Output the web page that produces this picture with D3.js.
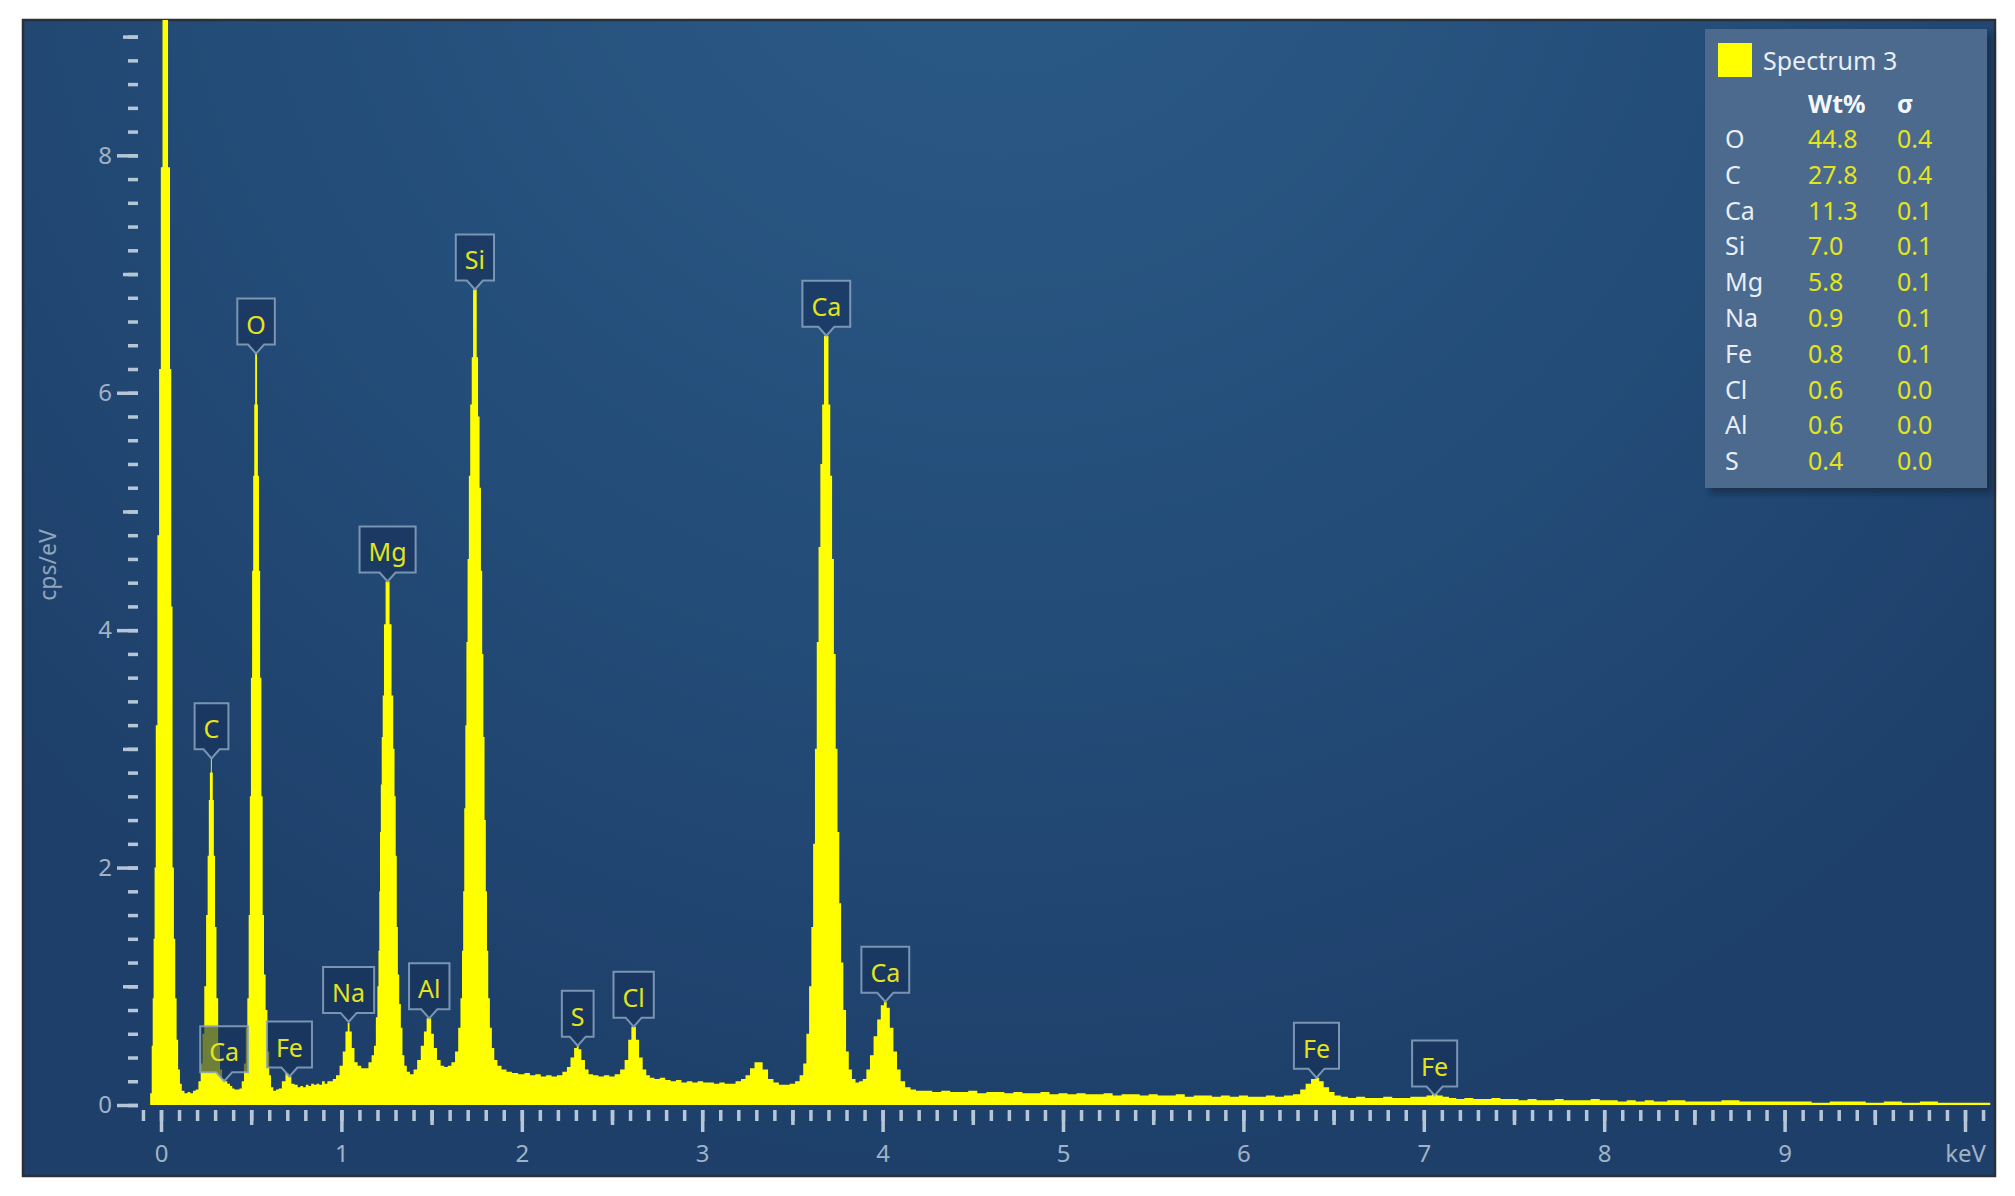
<!DOCTYPE html>
<html>
<head>
<meta charset="utf-8">
<script src="https://cdn.jsdelivr.net/npm/d3@7/dist/d3.min.js"></script>
<style>
    body { margin: 0; background: #ffffff; }
    svg { display: block; font-family: "Noto Sans", "Open Sans", sans-serif; }
</style>
</head>
<body>
<div id="chart"></div>
<script>
//Datos de la tabla de la leyenda
const elements = ['O', 'C', 'Ca', 'Si', 'Mg', 'Na', 'Fe', 'Cl', 'Al', 'S'];
const wtPercent = ['44.8', '27.8', '11.3', '7.0', '5.8', '0.9', '0.8', '0.6', '0.6', '0.4'];
const sigmaValues = ['0.4', '0.4', '0.1', '0.1', '0.1', '0.1', '0.1', '0.0', '0.0', '0.0'];

//Etiquetas de picos (elemento, keV, cps/eV en la punta)
const peakNames = ['C', 'Ca', 'O', 'Fe', 'Na', 'Mg', 'Al', 'Si', 'S', 'Cl', 'Ca', 'Ca', 'Fe', 'Fe'];
const peakEnergies = [0.28, 0.35, 0.527, 0.712, 1.04, 1.256, 1.487, 1.74, 2.31, 2.62, 3.688, 4.015, 6.405, 7.06];
const peakHeights = [2.92, 0.2, 6.33, 0.24, 0.70, 4.41, 0.73, 6.87, 0.50, 0.66, 6.48, 0.87, 0.23, 0.08];

//Ejes
const yTickLabels = [0, 2, 4, 6, 8];
const xTickLabels = ['0', '1', '2', '3', '4', '5', '6', '7', '8', '9', 'keV'];

//Espectro [keV, cps/eV]
const spectrum = [
    [-0.065,0],[-0.055,0.1],[-0.048,0.5],[-0.044,0.9],[-0.038,1.4],[-0.033,2.0],[-0.025,3.2],[-0.015,4.8],[-0.006,6.2],
    [0.004,7.9],[0.013,9.3],[0.015,12],[0.030,12],[0.032,9.3],[0.046,7.9],[0.054,6.2],[0.06,4.2],[0.068,2.0],[0.075,1.4],
    [0.083,0.9],[0.09,0.55],[0.1,0.3],[0.11,0.18],[0.12,0.12],[0.14,0.1],[0.155,0.11],[0.17,0.1],[0.185,0.12],[0.2,0.13],
    [0.215,0.2],[0.225,0.35],[0.235,0.6],[0.245,1.0],[0.255,1.6],[0.262,2.1],[0.268,2.57],[0.274,2.8],[0.279,2.92],
    [0.284,2.8],[0.29,2.57],[0.296,2.1],[0.303,1.5],[0.312,0.9],[0.322,0.5],[0.332,0.3],[0.345,0.22],[0.36,0.2],
    [0.375,0.18],[0.39,0.16],[0.4,0.14],[0.415,0.13],[0.43,0.13],[0.44,0.14],
    [0.455,0.2],[0.465,0.35],[0.475,0.65],[0.482,0.9],[0.49,1.6],[0.495,2.6],[0.502,3.6],[0.508,4.5],[0.514,5.3],
    [0.52,5.9],[0.524,6.33],[0.53,6.33],[0.534,5.9],[0.54,5.3],[0.546,4.5],[0.553,3.6],[0.56,2.6],[0.567,1.6],
    [0.575,1.1],[0.585,0.8],[0.595,0.45],[0.605,0.25],[0.615,0.15],[0.63,0.12],[0.645,0.13],
    [0.66,0.14],[0.68,0.2],[0.7,0.27],[0.715,0.24],[0.73,0.18],[0.75,0.17],[0.765,0.15],[0.78,0.16],[0.795,0.15],
    [0.81,0.17],[0.825,0.16],[0.84,0.18],[0.855,0.17],[0.87,0.18],[0.885,0.17],[0.9,0.2],[0.915,0.18],[0.93,0.2],
    [0.945,0.2],[0.96,0.22],
    [0.98,0.25],[1.0,0.33],[1.015,0.45],[1.03,0.62],[1.04,0.69],[1.05,0.62],[1.065,0.48],[1.08,0.36],[1.1,0.33],
    [1.12,0.31],[1.14,0.31],[1.16,0.36],
    [1.175,0.42],[1.186,0.5],[1.196,0.74],[1.203,1.0],[1.208,1.3],[1.212,1.8],[1.216,2.3],[1.221,2.7],[1.226,3.1],
    [1.232,3.45],[1.24,4.05],[1.25,4.41],[1.262,4.41],[1.272,4.05],[1.284,3.45],[1.291,3.0],[1.298,2.6],[1.304,2.1],
    [1.31,1.5],[1.316,1.1],[1.325,0.85],[1.334,0.65],[1.343,0.42],[1.355,0.33],[1.37,0.28],[1.39,0.26],[1.41,0.3],
    [1.43,0.38],[1.45,0.5],[1.465,0.62],[1.48,0.73],[1.49,0.73],[1.505,0.6],[1.52,0.48],[1.54,0.38],[1.56,0.33],
    [1.58,0.32],[1.6,0.33],[1.62,0.36],
    [1.64,0.45],[1.655,0.65],[1.665,0.9],[1.672,1.3],[1.678,1.8],[1.684,2.5],[1.69,3.2],[1.696,3.9],[1.703,4.6],
    [1.71,5.3],[1.718,5.9],[1.727,6.3],[1.733,6.87],[1.747,6.87],[1.753,6.3],[1.762,5.8],[1.77,5.2],[1.777,4.5],
    [1.784,3.8],[1.79,3.1],[1.797,2.4],[1.804,1.8],[1.81,1.3],[1.818,0.9],[1.828,0.65],[1.84,0.48],[1.855,0.38],
    [1.875,0.33],[1.9,0.3],[1.93,0.28],[1.96,0.27],[2.0,0.26],
    [2.03,0.27],[2.06,0.25],[2.09,0.26],[2.12,0.24],[2.15,0.25],[2.18,0.24],[2.21,0.25],[2.24,0.28],
    [2.26,0.32],[2.28,0.4],[2.3,0.48],[2.31,0.5],[2.32,0.47],[2.34,0.38],[2.36,0.3],[2.38,0.26],[2.41,0.25],
    [2.44,0.24],[2.47,0.25],[2.5,0.24],[2.53,0.26],[2.56,0.3],
    [2.58,0.38],[2.6,0.55],[2.615,0.66],[2.625,0.66],[2.64,0.55],[2.66,0.4],[2.68,0.3],[2.7,0.25],[2.72,0.23],
    [2.75,0.22],[2.78,0.23],[2.81,0.21],[2.84,0.2],[2.87,0.21],[2.9,0.19],[2.93,0.2],[2.96,0.19],[2.99,0.2],
    [3.02,0.19],[3.05,0.19],[3.08,0.18],[3.11,0.19],[3.14,0.18],[3.17,0.18],[3.2,0.2],[3.23,0.22],
    [3.25,0.25],[3.28,0.31],[3.3,0.36],[3.32,0.36],[3.35,0.3],[3.38,0.22],[3.41,0.19],[3.44,0.17],[3.47,0.17],
    [3.5,0.18],[3.53,0.2],[3.55,0.25],
    [3.57,0.35],[3.585,0.6],[3.6,1.0],[3.61,1.5],[3.62,2.2],[3.63,3.0],[3.64,3.9],[3.65,4.7],[3.66,5.4],
    [3.67,5.9],[3.68,6.48],[3.695,6.48],[3.705,5.9],[3.715,5.3],[3.725,4.6],[3.735,3.8],[3.745,3.0],[3.755,2.3],
    [3.765,1.7],[3.775,1.2],[3.79,0.8],[3.805,0.45],[3.82,0.3],[3.84,0.22],[3.86,0.19],[3.88,0.2],[3.9,0.22],
    [3.92,0.3],[3.94,0.42],[3.96,0.58],[3.98,0.72],[4.0,0.84],[4.015,0.87],[4.03,0.82],[4.05,0.65],[4.07,0.45],
    [4.09,0.3],[4.11,0.2],[4.14,0.15],[4.17,0.13],[4.2,0.12],
    [4.25,0.12],[4.3,0.11],[4.35,0.12],[4.4,0.11],[4.45,0.11],[4.5,0.12],[4.55,0.10],[4.6,0.11],[4.65,0.11],
    [4.7,0.10],[4.75,0.11],[4.8,0.10],[4.85,0.10],[4.9,0.11],[4.95,0.09],[5.0,0.10],[5.05,0.09],[5.1,0.10],
    [5.15,0.09],[5.2,0.09],[5.25,0.10],[5.3,0.08],[5.35,0.09],[5.4,0.09],[5.45,0.08],[5.5,0.09],[5.55,0.08],
    [5.6,0.08],[5.65,0.09],[5.7,0.07],[5.75,0.08],[5.8,0.08],[5.85,0.07],[5.9,0.08],[5.95,0.07],[6.0,0.08],
    [6.05,0.07],[6.1,0.07],[6.15,0.08],[6.2,0.07],[6.25,0.08],
    [6.3,0.09],[6.33,0.13],[6.36,0.18],[6.39,0.22],[6.41,0.23],[6.43,0.2],[6.46,0.15],[6.49,0.11],[6.52,0.08],
    [6.56,0.07],[6.6,0.06],[6.65,0.07],[6.7,0.06],[6.75,0.06],[6.8,0.07],[6.85,0.06],[6.9,0.06],[6.95,0.07],
    [7.0,0.07],[7.03,0.08],[7.06,0.09],[7.09,0.08],[7.12,0.07],[7.16,0.06],[7.2,0.05],[7.25,0.06],[7.3,0.05],
    [7.35,0.05],[7.4,0.06],[7.45,0.05],[7.5,0.05],[7.55,0.04],[7.6,0.05],[7.65,0.04],[7.7,0.04],[7.75,0.05],
    [7.8,0.04],[7.85,0.04],[7.9,0.04],[7.95,0.05],[8.0,0.04],[8.05,0.04],[8.1,0.03],[8.15,0.04],[8.2,0.03],
    [8.25,0.04],[8.3,0.03],[8.4,0.04],[8.5,0.03],[8.6,0.03],[8.7,0.04],[8.8,0.03],[8.9,0.03],[9.0,0.03],
    [9.1,0.03],[9.2,0.02],[9.3,0.03],[9.4,0.03],[9.5,0.02],[9.6,0.03],[9.7,0.02],[9.8,0.03],[9.9,0.02],
    [10.0,0.02],[10.14,0.02]
];

//Colores fijos
const COLOR_SPECTRUM = '#ffff00',
    COLOR_LABEL = '#e4e41c',
    COLOR_TICK = '#b7c6d6',
    COLOR_TICK_TEXT = '#9fb2c6';

const width = 2015, height = 1196;
const panel = {left: 23, top: 20, right: 1995, bottom: 1176};

let svg = d3.select('#chart')
    .append('svg')
        .attr('width', width)
        .attr('height', height);

let defs = svg.append('defs');

let grad = defs.append('radialGradient')
    .attr('id', 'bg')
    .attr('gradientUnits', 'userSpaceOnUse')
    .attr('cx', 1000).attr('cy', -150)
    .attr('r', 1350);
grad.append('stop').attr('offset', '0%').attr('stop-color', '#2c5c89');
grad.append('stop').attr('offset', '55%').attr('stop-color', '#244d79');
grad.append('stop').attr('offset', '100%').attr('stop-color', '#1d3f69');

defs.append('clipPath').attr('id', 'plotClip')
    .append('rect')
        .attr('x', 140).attr('y', panel.top)
        .attr('width', panel.right - 140).attr('height', 1105 - panel.top + 1);

let shadow = defs.append('filter').attr('id', 'shadow')
    .attr('x', '-10%').attr('y', '-10%').attr('width', '130%').attr('height', '130%');
shadow.append('feDropShadow')
    .attr('dx', 5).attr('dy', 5).attr('stdDeviation', 3)
    .attr('flood-color', '#0d1f36').attr('flood-opacity', 0.6);

//Fondo del panel
svg.append('rect')
    .attr('x', panel.left).attr('y', panel.top)
    .attr('width', panel.right - panel.left).attr('height', panel.bottom - panel.top)
    .attr('fill', 'url(#bg)')
    .attr('stroke', '#2b3036')
    .attr('stroke-width', 2.5);

//Escalas
let x = d3.scaleLinear()
    .domain([0, 10])
    .range([161, 1965]);

let y = d3.scaleLinear()
    .domain([0, 9.14])
    .range([1105, 20]);

//Espectro (en escalones, como los canales del detector)
let area = d3.area()
    .curve(d3.curveStep)
    .x(function(d) { return x(d[0]); })
    .y0(y(0))
    .y1(function(d) { return y(d[1]); });

svg.append('path')
    .datum(spectrum)
    .attr('clip-path', 'url(#plotClip)')
    .attr('fill', COLOR_SPECTRUM)
    .attr('d', area);

//Eje Y: marcas menores, intermedias y mayores
let yMinor = d3.range(0, 9.01, 0.2).map(function(d) { return +d.toFixed(1); });
let yOdd = [1, 3, 5, 7, 9];

function styleTicks(g) {
    g.select('.domain').remove();
    g.selectAll('.tick line').attr('stroke', COLOR_TICK).attr('stroke-width', 3.5);
}

svg.append('g')
    .attr('transform', 'translate(138,0)')
    .call(d3.axisLeft(y).tickValues(yMinor).tickSize(10).tickFormat(''))
    .call(styleTicks);

svg.append('g')
    .attr('transform', 'translate(138,0)')
    .call(d3.axisLeft(y).tickValues(yOdd).tickSize(15).tickFormat(''))
    .call(styleTicks);

svg.append('g')
    .attr('transform', 'translate(138,0)')
    .call(d3.axisLeft(y).tickValues(yTickLabels).tickSize(21).tickPadding(5))
    .call(styleTicks)
    .call(function(g) {
        g.selectAll('.tick text')
            .attr('fill', COLOR_TICK_TEXT)
            .style('font-size', '24px')
            .style('font-family', '"Noto Sans", sans-serif');
    });

//Eje X
let xMinor = d3.range(-1, 102).map(function(d) { return d / 10; });
let xHalf = d3.range(0, 10).map(function(d) { return d + 0.5; });
let xMajor = d3.range(0, 11);

svg.append('g')
    .attr('transform', 'translate(0,1110)')
    .call(d3.axisBottom(x).tickValues(xMinor).tickSize(11).tickFormat(''))
    .call(styleTicks);

svg.append('g')
    .attr('transform', 'translate(0,1110)')
    .call(d3.axisBottom(x).tickValues(xHalf).tickSize(15).tickFormat(''))
    .call(styleTicks);

svg.append('g')
    .attr('transform', 'translate(0,1110)')
    .call(d3.axisBottom(x).tickValues(xMajor).tickSize(22).tickPadding(13)
        .tickFormat(function(d, i) { return xTickLabels[i]; }))
    .call(styleTicks)
    .call(function(g) {
        g.selectAll('.tick text')
            .attr('fill', COLOR_TICK_TEXT)
            .style('font-size', '24px')
            .style('font-family', '"Noto Sans", sans-serif');
    });

//Título eje Y
svg.append('text')
    .attr('transform', 'translate(56,565) rotate(-90)')
    .attr('text-anchor', 'middle')
    .attr('fill', '#8fa4bb')
    .style('font-size', '23px')
    .text('cps/eV');

//Etiquetas de los picos
let labels = svg.append('g')
    .selectAll('g')
    .data(peakNames)
    .enter()
    .append('g')
    .attr('class', 'peak-label');

labels.each(function(name, i) {
    let g = d3.select(this);
    let cx = x(peakEnergies[i]);
    let tip = y(peakHeights[i]);
    let bottom = tip - 9;
    let top = bottom - 46;

    let box = g.append('path');
    let txt = g.append('text')
        .attr('x', cx)
        .attr('y', bottom - 11)
        .attr('text-anchor', 'middle')
        .attr('fill', COLOR_LABEL)
        .style('font-size', '25px')
        .text(name);

    let w = Math.max(30, txt.node().getComputedTextLength() + 18);
    let l = cx - w / 2, r = cx + w / 2;
    box.attr('d', 'M' + l + ',' + top + 'H' + r + 'V' + bottom + 'H' + (cx + 8) +
            'L' + cx + ',' + tip + 'L' + (cx - 8) + ',' + bottom + 'H' + l + 'Z')
        .attr('fill', 'rgba(22,48,88,0.62)')
        .attr('stroke', '#8aa4c0')
        .attr('stroke-opacity', 0.85)
        .attr('stroke-width', 2);
});

//Leyenda
let legend = svg.append('g');

legend.append('rect')
    .attr('x', 1705).attr('y', 29)
    .attr('width', 282).attr('height', 459)
    .attr('fill', '#4b6b8e')
    .attr('filter', 'url(#shadow)');

legend.append('rect')
    .attr('x', 1718).attr('y', 43)
    .attr('width', 34).attr('height', 34)
    .attr('fill', COLOR_SPECTRUM);

legend.append('text')
    .attr('x', 1763).attr('y', 70)
    .attr('fill', '#e8eef5')
    .style('font-size', '25px')
    .text('Spectrum 3');

legend.append('text')
    .attr('x', 1808).attr('y', 113)
    .attr('fill', '#f4f7fa')
    .style('font-size', '25px')
    .style('font-weight', 'bold')
    .text('Wt%');

legend.append('text')
    .attr('x', 1897).attr('y', 113)
    .attr('fill', '#f4f7fa')
    .style('font-size', '25px')
    .style('font-weight', 'bold')
    .text('σ');

let rows = legend.selectAll('.row')
    .data(elements)
    .enter()
    .append('g')
    .attr('class', 'row')
    .attr('transform', function(d, i) { return 'translate(0,' + (148 + i * 35.8) + ')'; });

rows.append('text')
    .attr('x', 1725)
    .attr('fill', '#e8eef5')
    .style('font-size', '25px')
    .text(function(d) { return d; });

rows.append('text')
    .attr('x', 1808)
    .attr('fill', COLOR_LABEL)
    .style('font-size', '25px')
    .text(function(d, i) { return wtPercent[i]; });

rows.append('text')
    .attr('x', 1897)
    .attr('fill', COLOR_LABEL)
    .style('font-size', '25px')
    .text(function(d, i) { return sigmaValues[i]; });
</script>
</body>
</html>
